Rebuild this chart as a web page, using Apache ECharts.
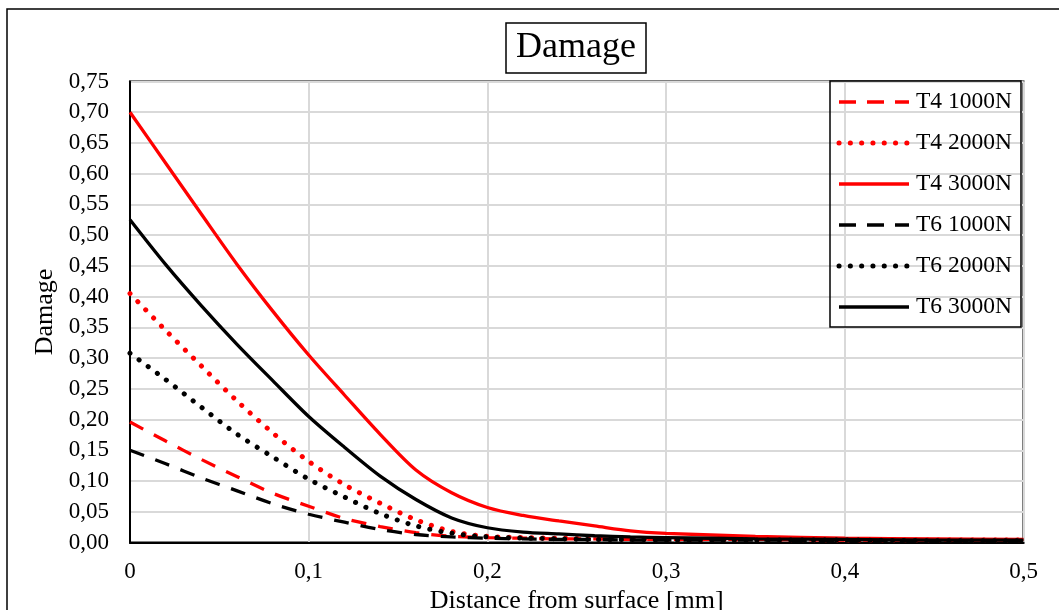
<!DOCTYPE html>
<html>
<head>
<meta charset="utf-8">
<title>Damage</title>
<script src="https://cdn.jsdelivr.net/npm/echarts@6/dist/echarts.min.js"></script>
<style>
  html, body { margin: 0; padding: 0; background: #fff; }
  #chart { width: 1059px; height: 610px; }
</style>
</head>
<body>
<div id="chart"></div>
<script>
// Distance from surface [mm]
const distance = [0, 0.02, 0.04, 0.06, 0.08, 0.10, 0.12, 0.14, 0.16, 0.18, 0.20,
                  0.22, 0.24, 0.26, 0.28, 0.30, 0.35, 0.40, 0.45, 0.50];

// Damage values per tool / load
const t4_1000 = [0.196, 0.165, 0.135, 0.107, 0.080, 0.059, 0.039, 0.026, 0.016, 0.010, 0.008,
                 0.007, 0.006, 0.006, 0.005, 0.005, 0.005, 0.004, 0.004, 0.004];
const t4_2000 = [0.405, 0.345, 0.287, 0.230, 0.178, 0.132, 0.094, 0.064, 0.037, 0.018, 0.010,
                 0.008, 0.007, 0.006, 0.006, 0.005, 0.005, 0.004, 0.004, 0.004];
const t4_3000 = [0.700, 0.617, 0.534, 0.452, 0.376, 0.305, 0.240, 0.176, 0.118, 0.081, 0.057,
                 0.044, 0.035, 0.027, 0.019, 0.015, 0.010, 0.007, 0.006, 0.005];
const t6_1000 = [0.150, 0.128, 0.105, 0.084, 0.063, 0.046, 0.033, 0.021, 0.013, 0.009, 0.007,
                 0.006, 0.005, 0.005, 0.004, 0.004, 0.004, 0.003, 0.003, 0.003];
const t6_2000 = [0.308, 0.265, 0.220, 0.176, 0.139, 0.103, 0.074, 0.047, 0.027, 0.015, 0.009,
                 0.007, 0.006, 0.005, 0.005, 0.004, 0.004, 0.004, 0.003, 0.003];
const t6_3000 = [0.525, 0.452, 0.385, 0.322, 0.263, 0.205, 0.155, 0.108, 0.070, 0.040, 0.024,
                 0.017, 0.014, 0.011, 0.009, 0.008, 0.006, 0.005, 0.004, 0.004];

const seriesNames = ['T4 1000N', 'T4 2000N', 'T4 3000N', 'T6 1000N', 'T6 2000N', 'T6 3000N'];

const FONT = 'Liberation Serif, Times New Roman, serif';
const RED = '#ff0000';
const BLACK = '#000000';

// line looks: dashed, dotted, solid
const LOOKS = {
  dash:  { width: 3.3, type: [15, 12], cap: 'butt', legendDash: [17, 11] },
  dot:   { width: 5, type: [0.1, 11.2], cap: 'round', legendDash: [0.1, 11.2] },
  solid: { width: 3.3, type: 'solid', cap: 'butt', legendDash: null }
};
const seriesColors = [RED, RED, RED, BLACK, BLACK, BLACK];
const seriesLooks = ['dash', 'dot', 'solid', 'dash', 'dot', 'solid'];
const values = [t4_1000, t4_2000, t4_3000, t6_1000, t6_2000, t6_3000];

function pairs(ys) {
  return distance.map((x, i) => [x, ys[i]]);
}

// Legend box, drawn as plain shapes so line widths and dash patterns stay exact
const LEG = { x: 830, y: 81, w: 191, h: 246, first: 102, step: 41, lineX0: 839, lineX1: 909, textX: 916 };
const legendGraphics = [{
  type: 'rect',
  shape: { x: LEG.x, y: LEG.y, width: LEG.w, height: LEG.h },
  style: { fill: 'none', stroke: '#000', lineWidth: 1.5 },
  silent: true,
  z: 10
}];
seriesNames.forEach((name, i) => {
  const look = LOOKS[seriesLooks[i]];
  const cy = LEG.first + i * LEG.step;
  legendGraphics.push({
    type: 'line',
    shape: { x1: LEG.lineX0, y1: cy, x2: LEG.lineX1, y2: cy },
    style: {
      stroke: seriesColors[i],
      lineWidth: look.width,
      lineDash: look.legendDash,
      lineCap: look.cap
    },
    silent: true,
    z: 10
  });
  legendGraphics.push({
    type: 'text',
    x: LEG.textX,
    y: cy,
    style: {
      text: name,
      fill: '#000',
      font: '23.5px ' + FONT,
      verticalAlign: 'middle',
      align: 'left'
    },
    silent: true,
    z: 10
  });
});

const chart = echarts.init(document.getElementById('chart'), null, { renderer: 'canvas' });

chart.setOption({
  backgroundColor: '#ffffff',
  animation: false,
  title: {
    text: 'Damage',
    left: 506,
    top: 23,
    padding: [6, 10, 6, 10],
    borderColor: '#000',
    borderWidth: 1.5,
    textStyle: { fontFamily: FONT, fontSize: 36, fontWeight: 'normal', color: '#000', lineHeight: 38 }
  },
  graphic: [{
    type: 'rect',
    shape: { x: 7, y: 9, width: 1200, height: 800 },
    style: { fill: 'none', stroke: '#000', lineWidth: 1.5 },
    silent: true,
    z: -1
  }].concat(legendGraphics),
  grid: {
    left: 130,
    top: 81.5,
    right: 35.5,
    bottom: 67.5,
    outerBoundsMode: 'none',
    containLabel: false,
    show: true,
    borderColor: '#000',
    borderWidth: 2
  },
  xAxis: {
    type: 'value',
    min: 0,
    max: 0.5,
    interval: 0.1,
    name: 'Distance from surface [mm]',
    nameLocation: 'middle',
    nameGap: 43,
    nameTextStyle: { fontFamily: FONT, fontSize: 26, color: '#000' },
    axisLine: { lineStyle: { color: '#000', width: 2 } },
    axisTick: { show: false },
    axisLabel: {
      margin: 18,
      fontFamily: FONT, fontSize: 23, color: '#000',
      formatter: v => (v === 0 ? '0' : v.toFixed(1).replace('.', ','))
    },
    splitLine: { show: true, lineStyle: { color: '#d9d9d9', width: 2 } }
  },
  yAxis: {
    type: 'value',
    min: 0,
    max: 0.75,
    interval: 0.05,
    name: 'Damage',
    nameLocation: 'middle',
    nameGap: 72,
    nameRotate: 90,
    nameTextStyle: { fontFamily: FONT, fontSize: 26, color: '#000' },
    axisLine: { show: true, lineStyle: { color: '#000', width: 2 } },
    axisTick: { show: false },
    axisLabel: {
      margin: 21,
      fontFamily: FONT, fontSize: 23, color: '#000',
      formatter: v => v.toFixed(2).replace('.', ',')
    },
    splitLine: { show: true, lineStyle: { color: '#d9d9d9', width: 2 } }
  },
  series: seriesNames.map((name, i) => {
    const look = LOOKS[seriesLooks[i]];
    return {
      name: name,
      type: 'line',
      data: pairs(values[i]),
      symbol: 'none',
      showSymbol: false,
      smooth: 0.3,
      clip: true,
      color: seriesColors[i],
      lineStyle: { color: seriesColors[i], width: look.width, type: look.type, cap: look.cap }
    };
  })
});
</script>
</body>
</html>
